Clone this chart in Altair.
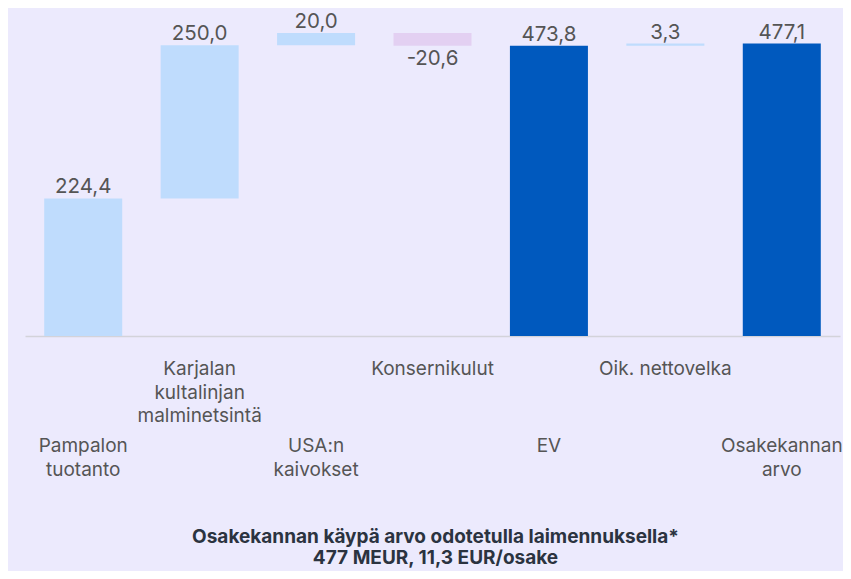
import altair as alt
import pandas as pd

cats = ["Pampalon tuotanto", "Karjalan kultalinjan malminetsintä", "USA:n kaivokset",
        "Konsernikulut", "EV", "Oik. nettovelka", "Osakekannan arvo"]
label_lines = ["Pampalon\ntuotanto", "Karjalan\nkultalinjan\nmalminetsintä", "USA:n\nkaivokset",
               "Konsernikulut", "EV", "Oik. nettovelka", "Osakekannan\narvo"]
values = [224.4, 250.0, 20.0, -20.6, 473.8, 3.3, 477.1]
kinds = ["delta", "delta", "delta", "delta", "total", "delta", "total"]
label_rows = ["lower", "upper", "lower", "upper", "lower", "upper", "lower"]
value_texts = ["224,4", "250,0", "20,0", "-20,6", "473,8", "3,3", "477,1"]
title_lines = ["Osakekannan käypä arvo odotetulla laimennuksella*", "477 MEUR, 11,3 EUR/osake"]

rows = []
running = 0.0
for c, lab, v, k, r, t in zip(cats, label_lines, values, kinds, label_rows, value_texts):
    if k == "total":
        start, end = 0.0, v
        running = v
        color = "total"
    else:
        start, end = running, running + v
        running = end
        color = "neg" if v < 0 else "pos"
    rows.append(dict(cat=c, label=lab, start=start, end=end, top=max(start, end),
                     bottom=min(start, end), color=color, row=r, vtext=t, neg=v < 0))
df = pd.DataFrame(rows)

W, H = 815, 303
xenc = alt.X("cat:N", sort=cats, scale=alt.Scale(paddingInner=0.33, paddingOuter=0.165),
             axis=alt.Axis(labels=False, ticks=False, title=None, domainColor="#D3D3DA",
                           domainWidth=1.5, grid=False))
yscale = alt.Scale(domain=[0, 494.4], nice=False, zero=True)

base = alt.Chart(df)

bars = base.mark_bar().encode(
    x=xenc,
    y=alt.Y("start:Q", scale=yscale, axis=None),
    y2="end:Q",
    color=alt.Color("color:N", scale=alt.Scale(domain=["pos", "neg", "total"],
                                               range=["#BFDCFD", "#E3D0F2", "#0059BE"]), legend=None),
)

font = "Inter"
fs = 20.5
lfs = 19
vlab_pos = base.transform_filter("!datum.neg").mark_text(
    baseline="bottom", dy=-1, fontSize=fs, font=font, color="#555555"
).encode(x=alt.X("cat:N", sort=cats), y=alt.Y("top:Q", scale=yscale), text="vtext:N")

vlab_neg = base.transform_filter("datum.neg").mark_text(
    baseline="top", dy=3, fontSize=fs, font=font, color="#555555"
).encode(x=alt.X("cat:N", sort=cats), y=alt.Y("bottom:Q", scale=yscale), text="vtext:N")

xlab_upper = base.transform_filter("datum.row == 'upper'").mark_text(
    baseline="top", lineBreak="\n", lineHeight=23.5, fontSize=lfs, font=font, color="#555555"
).encode(x=alt.X("cat:N", sort=cats), y=alt.value(H + 24), text="label:N")

xlab_lower = base.transform_filter("datum.row == 'lower'").mark_text(
    baseline="top", lineBreak="\n", lineHeight=24, fontSize=lfs, font=font, color="#555555"
).encode(x=alt.X("cat:N", sort=cats), y=alt.value(H + 101), text="label:N")

tdf = pd.DataFrame({"t": ["\n".join(title_lines)]})
title = alt.Chart(tdf).mark_text(
    baseline="top", lineBreak="\n", lineHeight=21, fontSize=19, font=font,
    fontWeight="bold", color="#2B3340"
).encode(x=alt.value(W / 2 + 3), y=alt.value(H + 192), text="t:N")

chart = alt.layer(bars, vlab_pos, vlab_neg, xlab_upper, xlab_lower, title).properties(
    width=W, height=H,
    autosize=alt.AutoSizeParams(type="none"),
    padding={"left": 17, "top": 25, "right": 3, "bottom": 235},
).configure(background="#ECEAFD").configure_view(strokeWidth=0)

chart.save("out.html", embed_options={"renderer": "svg", "actions": False})
